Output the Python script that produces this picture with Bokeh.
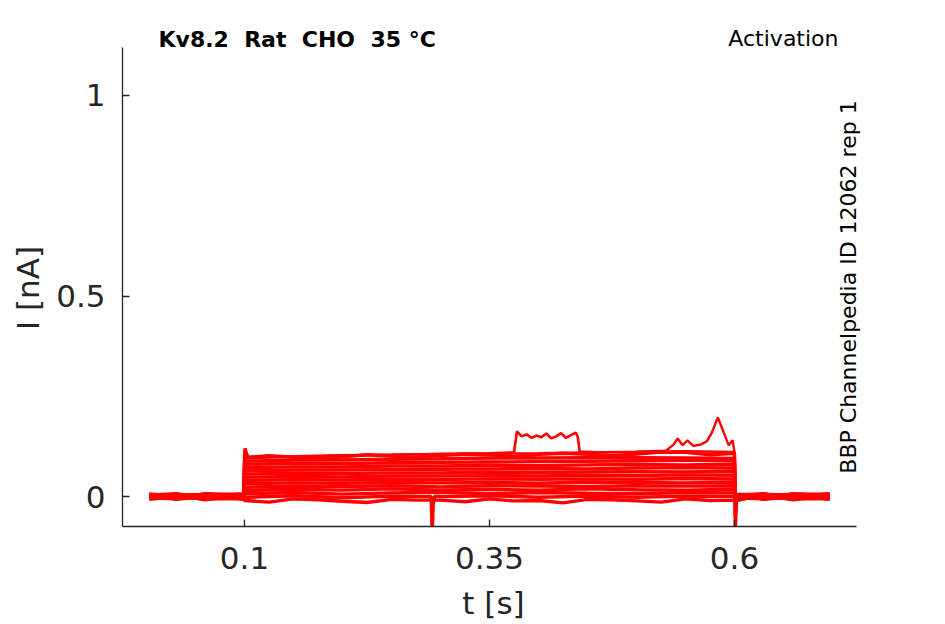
from bokeh.plotting import figure
from bokeh.layouts import row
from bokeh.models import Range1d, FixedTicker, Label, CustomJSTickFormatter
from bokeh.embed import file_html
from bokeh.resources import INLINE
import math

# ---- data ----
PRE_T = [0.003, 0.03, 0.06, 0.0995]
PULSE_T = [0.1, 0.15, 0.2, 0.25, 0.3, 0.35, 0.4, 0.45, 0.5, 0.55, 0.6]
POST_T = [0.6005, 0.63, 0.66, 0.697]

PRE_I = [
    [0.005, -0.006, 0.003, -0.005],
    [-0.006, 0.004, -0.007, 0.003],
    [0.003, -0.003, 0.006, -0.006],
    [-0.005, 0.006, -0.004, 0.005],
    [0.006, -0.007, 0.000, -0.003],
    [-0.003, 0.003, -0.008, 0.006],
    [0.000, 0.005, 0.004, -0.007],
    [0.005, -0.005, -0.003, 0.000],
    [-0.007, 0.000, 0.006, 0.004],
    [0.003, 0.007, -0.006, -0.004],
    [-0.004, -0.003, 0.003, 0.007],
    [0.006, 0.003, -0.005, -0.006],
    [-0.003, -0.006, 0.007, 0.003],
    [0.000, 0.006, -0.003, 0.005],
]
PULSE_I = [
    [-0.010, -0.006, -0.012, -0.007, -0.009, -0.006, -0.010, -0.007, -0.011, -0.006, -0.009],
    [-0.002, 0.002, -0.003, 0.001, 0.000, 0.002, -0.002, 0.001, -0.002, 0.001, 0.000],
    [0.007, 0.010, 0.006, 0.009, 0.011, 0.007, 0.010, 0.008, 0.007, 0.010, 0.009],
    [0.015, 0.018, 0.016, 0.019, 0.016, 0.018, 0.016, 0.019, 0.017, 0.016, 0.018],
    [0.023, 0.026, 0.025, 0.027, 0.024, 0.027, 0.026, 0.025, 0.027, 0.026, 0.027],
    [0.032, 0.034, 0.033, 0.035, 0.034, 0.035, 0.033, 0.036, 0.035, 0.034, 0.036],
    [0.040, 0.042, 0.041, 0.043, 0.042, 0.044, 0.043, 0.044, 0.043, 0.045, 0.044],
    [0.048, 0.050, 0.049, 0.051, 0.051, 0.052, 0.051, 0.053, 0.052, 0.054, 0.053],
    [0.056, 0.058, 0.057, 0.059, 0.059, 0.061, 0.060, 0.061, 0.062, 0.061, 0.063],
    [0.064, 0.066, 0.066, 0.067, 0.068, 0.069, 0.070, 0.069, 0.071, 0.072, 0.071],
    [0.072, 0.074, 0.074, 0.076, 0.076, 0.078, 0.077, 0.079, 0.080, 0.079, 0.081],
    [0.080, 0.083, 0.082, 0.084, 0.085, 0.086, 0.087, 0.088, 0.089, 0.090, 0.090],
    [0.088, 0.091, 0.091, 0.093, 0.094, 0.096, 0.096, 0.097, 0.097, 0.096, 0.095],
    [0.097, 0.098, 0.099, 0.101, 0.102, 0.104, 0.105, 0.105, 0.106, 0.110, 0.108],
]
POST_I = [
    [0.005, -0.006, 0.003, -0.005],
    [-0.006, 0.004, -0.007, 0.003],
    [0.003, -0.003, 0.006, -0.006],
    [-0.005, 0.006, -0.004, 0.005],
    [0.006, -0.007, 0.000, -0.003],
    [-0.003, 0.003, -0.008, 0.006],
    [0.000, 0.005, 0.004, -0.007],
    [0.005, -0.005, -0.003, 0.000],
    [-0.007, 0.000, 0.006, 0.004],
    [0.003, 0.007, -0.006, -0.004],
    [-0.004, -0.003, 0.003, 0.007],
    [0.006, 0.003, -0.005, -0.006],
    [-0.003, -0.006, 0.007, 0.003],
    [0.000, 0.006, -0.003, 0.005],
]

# extra points added to individual sweeps (transients and the ragged band edges)
EVENT_SWEEP = [13, 1, 1, 0, 13, 0]
EVENT_T = [
    [0.1005, 0.103],
    [0.2905, 0.2915, 0.2925, 0.294],
    [0.6008, 0.602],
    [0.6008, 0.602],
    [0.125, 0.175, 0.225, 0.275, 0.325, 0.375, 0.425, 0.475, 0.525, 0.575],
    [0.125, 0.175, 0.225, 0.275, 0.325, 0.375, 0.425, 0.475, 0.525, 0.575],
]
EVENT_I = [
    [0.120, 0.097],
    [0.000, -0.100, -0.020, 0.001],
    [-0.085, -0.010],
    [-0.050, 0.000],
    [0.102, 0.095, 0.104, 0.098, 0.106, 0.100, 0.108, 0.102, 0.111, 0.104],
    [-0.014, -0.008, -0.015, -0.009, -0.013, -0.011, -0.016, -0.008, -0.014, -0.010],
]

# sweep with the plateau hump
HUMP_T = [0.003, 0.05, 0.0995, 0.1, 0.1005, 0.104, 0.15, 0.2, 0.25, 0.3, 0.35, 0.375,
          0.378, 0.383, 0.388, 0.393, 0.398, 0.403, 0.408, 0.413, 0.418, 0.423, 0.428,
          0.433, 0.438, 0.44, 0.442, 0.46, 0.5, 0.55, 0.6, 0.6005, 0.65, 0.697]
HUMP_I = [0.001, -0.002, 0.002, 0.0, 0.118, 0.099, 0.100, 0.103, 0.104, 0.106, 0.108, 0.110,
          0.162, 0.150, 0.155, 0.146, 0.152, 0.148, 0.157, 0.145, 0.150, 0.158, 0.146,
          0.153, 0.159, 0.150, 0.112, 0.110, 0.111, 0.113, 0.111, -0.002, 0.002, -0.001]

# sweep with the late spike
SPIKE_T = [0.003, 0.05, 0.0995, 0.1, 0.1005, 0.15, 0.2, 0.25, 0.3, 0.35, 0.4, 0.45, 0.5, 0.53,
           0.538, 0.542, 0.547, 0.552, 0.558, 0.566, 0.572, 0.577, 0.583, 0.589, 0.594,
           0.598, 0.6, 0.6005, 0.65, 0.697]
SPIKE_I = [-0.001, 0.002, -0.002, 0.0, 0.095, 0.099, 0.102, 0.104, 0.106, 0.107, 0.108, 0.110, 0.112, 0.114,
           0.130, 0.145, 0.128, 0.140, 0.126, 0.130, 0.138, 0.160, 0.197, 0.160, 0.128,
           0.140, 0.110, 0.001, -0.002, 0.001]

X_TICKS = [0.1, 0.35, 0.6]
Y_TICKS = [0, 0.5, 1]

TITLE = "Kv8.2 \u00a0Rat \u00a0CHO \u00a035 °C"
PROTOCOL = "Activation"
SOURCE = "BBP Channelpedia ID 12062 rep 1"
X_LABEL = "t [s]"
Y_LABEL = "I [nA]"

AX = "#262626"
RED = "#ff0000"
FONT = "DejaVu Sans"

X_AXIS = (-0.0245, 0.7245)
Y_AXIS = (-0.0748, 1.1197)

LEFT_W = 50

# ---- narrow strip on the left holding the y-axis title ----
left = figure(width=LEFT_W, height=624, output_backend="svg", toolbar_location=None,
              x_range=Range1d(0, 1), y_range=Range1d(0, 1),
              x_axis_location=None, y_axis_location=None,
              min_border_left=0, min_border_right=0, min_border_top=0, min_border_bottom=98)
left.grid.visible = False
left.outline_line_color = None
left.background_fill_color = "white"
left.border_fill_color = "white"
left.add_layout(Label(x=27.5, y=238.5, x_units="screen", y_units="screen", text=Y_LABEL,
                      text_font=FONT, text_font_size="31px", text_color=AX,
                      text_baseline="middle", text_align="center", angle=math.pi / 2))

# ---- main plot ----
p = figure(width=945 - LEFT_W, height=624, output_backend="svg", toolbar_location=None,
           x_range=Range1d(-0.0245, 0.73265), y_range=Range1d(-0.0748, 1.2369),
           min_border_left=122 - LEFT_W, min_border_right=81, min_border_top=0,
           min_border_bottom=98)
p.grid.visible = False
p.outline_line_color = None
p.background_fill_color = "white"
p.border_fill_color = "white"

for k in range(len(PULSE_I)):
    ts = PRE_T + PULSE_T + POST_T
    vs = PRE_I[k] + PULSE_I[k] + POST_I[k]
    pts = list(zip(ts, vs))
    for e, sw in enumerate(EVENT_SWEEP):
        if sw == k:
            pts += list(zip(EVENT_T[e], EVENT_I[e]))
    pts.sort(key=lambda q: q[0])
    p.line([q[0] for q in pts], [q[1] for q in pts], line_color=RED, line_width=3.4)

p.line(HUMP_T, HUMP_I, line_color=RED, line_width=2.6)
p.line(SPIKE_T, SPIKE_I, line_color=RED, line_width=2.4)

for ax in (p.xaxis[0], p.yaxis[0]):
    ax.axis_line_color = AX
    ax.axis_line_width = 1.3
    ax.major_tick_line_color = AX
    ax.major_tick_line_width = 1.3
    ax.major_tick_in = 7
    ax.major_tick_out = 0
    ax.minor_tick_line_color = None
    ax.major_label_text_font = FONT
    ax.major_label_text_font_size = "31px"
    ax.major_label_text_color = AX
    ax.axis_label_text_font = FONT
    ax.axis_label_text_font_size = "31px"
    ax.axis_label_text_font_style = "normal"
    ax.axis_label_text_color = AX

p.xaxis.bounds = X_AXIS
p.yaxis.bounds = Y_AXIS
p.xaxis.ticker = FixedTicker(ticks=X_TICKS)
p.yaxis.ticker = FixedTicker(ticks=Y_TICKS)
p.xaxis.formatter = CustomJSTickFormatter(code="return String(tick);")
p.yaxis.formatter = CustomJSTickFormatter(code="return String(tick);")
p.xaxis.axis_label = X_LABEL
p.xaxis.major_label_standoff = 20
p.yaxis.major_label_standoff = 17
p.xaxis.axis_label_standoff = 13

# texts inside the frame (screen px from the frame's bottom-left corner)
p.add_layout(Label(x=36, y=487, x_units="screen", y_units="screen", text=TITLE,
                   text_font=FONT, text_font_size="22px", text_font_style="bold",
                   text_color="black", text_baseline="alphabetic", text_align="left"))
p.add_layout(Label(x=716, y=488, x_units="screen", y_units="screen", text=PROTOCOL,
                   text_font=FONT, text_font_size="22px", text_color="black",
                   text_baseline="alphabetic", text_align="right"))
p.add_layout(Label(x=726, y=239.5, x_units="screen", y_units="screen", text=SOURCE,
                   text_font=FONT, text_font_size="22px", text_color="black",
                   text_baseline="middle", text_align="center", angle=math.pi / 2))

layout = row(left, p, spacing=0)
open("out.html", "w").write(file_html(layout, INLINE))
